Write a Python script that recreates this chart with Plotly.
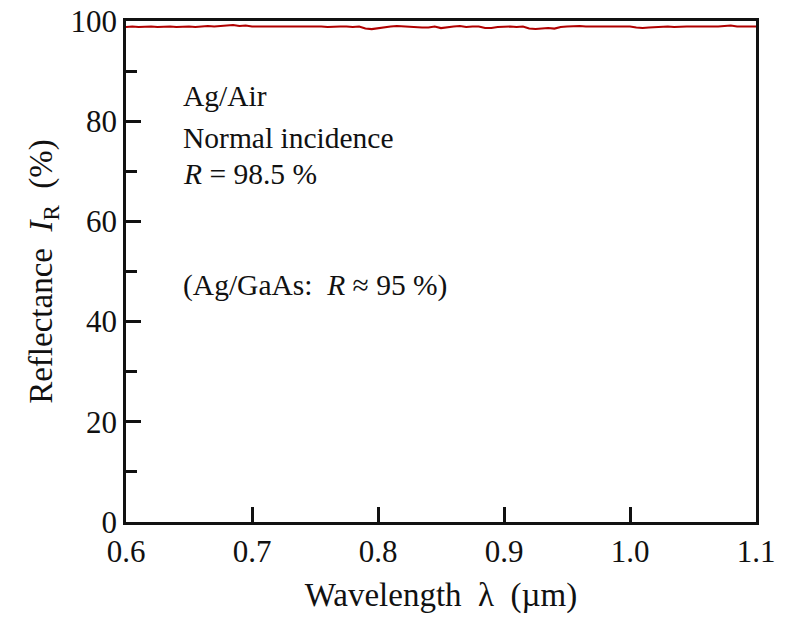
import plotly.graph_objects as go

# Wavelength grid (µm) and reflectance (%)
wavelength = [round(0.6 + 0.005 * i, 3) for i in range(101)]
reflectance = [
    98.8, 98.9, 98.8, 98.9, 98.9, 98.8, 98.9, 98.9, 98.8, 98.9,
    98.9, 98.8, 98.9, 99.0, 98.9, 99.0, 99.1, 99.2, 99.0, 99.1,
    98.9, 98.9, 99.0, 98.9, 98.9, 99.0, 98.9, 98.9, 99.0, 98.9,
    98.9, 98.9, 98.8, 98.9, 98.9, 98.9, 98.8, 98.9, 98.5, 98.4,
    98.6, 98.8, 98.9, 99.0, 98.9, 98.9, 98.8, 98.7, 98.7, 98.9,
    98.6, 98.8, 98.9, 99.0, 98.8, 98.9, 98.9, 98.6, 98.6, 98.8,
    98.9, 98.9, 98.8, 98.9, 98.5, 98.4, 98.5, 98.6, 98.5, 98.8,
    98.9, 99.0, 99.0, 98.9, 98.9, 98.9, 98.8, 98.9, 98.9, 98.8,
    98.9, 98.7, 98.6, 98.7, 98.8, 98.9, 98.9, 98.8, 98.9, 98.9,
    98.9, 98.9, 98.8, 98.9, 98.9, 99.0, 99.1, 98.9, 98.9, 98.9,
    98.9,
]

x_ticks = [0.6, 0.7, 0.8, 0.9, 1.0, 1.1]
x_tick_labels = ["0.6", "0.7", "0.8", "0.9", "1.0", "1.1"]
y_ticks = [0, 20, 40, 60, 80, 100]
y_tick_labels = ["0", "20", "40", "60", "80", "100"]

notes = ["Ag/Air", "Normal incidence", "<i>R</i> = 98.5 %", "(Ag/GaAs:  <i>R</i> ≈ 95 %)"]
note_y = [85.1, 76.7, 69.5, 47.3]

FONT = "Liberation Serif, Times New Roman, serif"
INK = "#111111"

fig = go.Figure()
fig.add_trace(go.Scatter(
    x=wavelength, y=reflectance, mode="lines",
    line=dict(color="#b00000", width=2.2), showlegend=False,
))

for txt, yy in zip(notes, note_y):
    fig.add_annotation(x=0.644, y=yy, xref="x", yref="y", text=txt,
                       showarrow=False, xanchor="left", yanchor="middle",
                       font=dict(family=FONT, size=29.5, color=INK))

fig.update_layout(
    width=779, height=610,
    margin=dict(l=118, r=31, t=13, b=96),
    paper_bgcolor="white", plot_bgcolor="white",
    font=dict(family=FONT, size=31, color=INK),
    xaxis=dict(
        range=[0.6, 1.1], tickvals=x_ticks, ticktext=x_tick_labels,
        ticks="inside", ticklen=15, tickwidth=2.5, tickcolor=INK,
        tickfont=dict(family=FONT, size=31, color=INK),
        ticklabeloverflow="allow",
        showline=True, linewidth=2.5, linecolor=INK, mirror=True,
        showgrid=False, zeroline=False, automargin=False,
        title=dict(text="Wavelength  λ  (µm)", standoff=15,
                   font=dict(family=FONT, size=33, color=INK)),
    ),
    yaxis=dict(
        range=[0, 100], tickvals=y_ticks, ticktext=y_tick_labels,
        ticks="inside", ticklen=15, tickwidth=2.5, tickcolor=INK,
        tickfont=dict(family=FONT, size=31, color=INK),
        ticklabeloverflow="allow",
        minor=dict(dtick=10, ticks="inside", ticklen=11, tickwidth=2.5, tickcolor=INK),
        showline=True, linewidth=2.5, linecolor=INK, mirror=True,
        showgrid=False, zeroline=False, automargin=False,
        title=dict(text="Reflectance  <i>I</i><sub>R</sub>  (%)", standoff=8,
                   font=dict(family=FONT, size=33, color=INK)),
    ),
)

fig.write_html("out.html")
